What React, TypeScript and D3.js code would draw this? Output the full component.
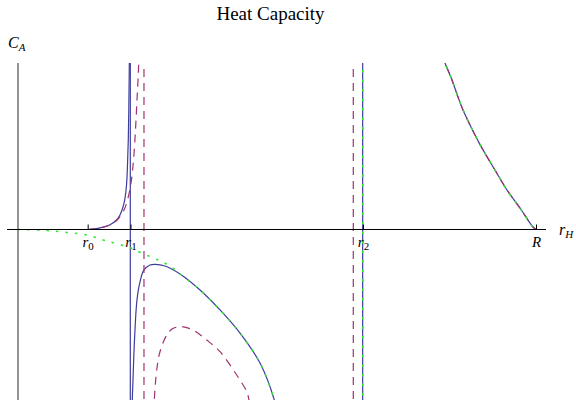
import { useEffect, useRef } from "react";
import * as d3 from "d3";

const W = 576;
const H = 400;

// r_H axis ticks (R taken as 10)
const tickValues = [1.345, 2.172, 6.66, 10];
const tickNames = ["r", "r", "r", "R"];
const tickSubs = ["0", "1", "2", ""];

// solid blue: exact C_A
const blueLeft: [number, number][] = [
  [1.351, 0], [1.486, 0.004], [1.641, 0.014], [1.776, 0.028], [1.892, 0.054],
  [1.969, 0.087], [2.027, 0.135], [2.066, 0.189], [2.095, 0.267], [2.114, 0.387],
  [2.129, 0.538], [2.139, 0.718], [2.149, 1.0], [2.153, 1.3],
];
const blueJump1: [number, number][] = [[2.168, 1.3], [2.168, -1.3]];
const blueMid: [number, number][] = [
  [2.195, -1.3], [2.207, -1.024], [2.22, -0.904], [2.249, -0.664], [2.297, -0.423],
  [2.355, -0.315], [2.432, -0.243], [2.548, -0.213], [2.645, -0.209], [2.838, -0.219],
  [3.127, -0.267], [3.514, -0.363], [3.9, -0.483], [4.286, -0.622], [4.672, -0.802],
  [4.948, -1.024], [5.0, -1.1],
];
const blueJump2: [number, number][] = [[6.654, 1.3], [6.654, -1.3]];
const rightBranch: [number, number][] = [
  [8.06, 1.14], [8.243, 1.0], [8.378, 0.898], [8.494, 0.796], [8.591, 0.718],
  [8.726, 0.628], [8.842, 0.556], [8.977, 0.478], [9.208, 0.357], [9.44, 0.237],
  [9.691, 0.129], [9.942, 0.015], [10, 0],
];

// dashed purple: approximation 1
const purpleLeft: [number, number][] = [
  [1.351, 0], [1.583, 0.009], [1.776, 0.027], [1.931, 0.063], [2.046, 0.117],
  [2.114, 0.177], [2.181, 0.279], [2.23, 0.417], [2.268, 0.598], [2.297, 0.778],
  [2.317, 0.898], [2.33, 1.0], [2.34, 1.3],
];
const purpleJump1: [number, number][] = [[2.432, 1.3], [2.432, -1.3]];
const purpleMid: [number, number][] = [
  [2.62, -1.1], [2.631, -1.024], [2.678, -0.844], [2.741, -0.734], [2.871, -0.634],
  [2.973, -0.598], [3.095, -0.584], [3.166, -0.583], [3.384, -0.604], [3.643, -0.664],
  [3.9, -0.734], [4.222, -0.874], [4.415, -0.974], [4.459, -1.024], [4.48, -1.1],
];
const purpleJump2: [number, number][] = [[6.473, 1.3], [6.473, -1.3]];

// dotted green: approximation 2
const greenLeft: [number, number][] = [
  [0, 0], [0.174, -0.001], [0.56, -0.006], [0.946, -0.018], [1.332, -0.033],
  [1.641, -0.063], [1.834, -0.079], [2.195, -0.113], [2.355, -0.137], [2.703, -0.183],
  [2.838, -0.203], [2.998, -0.233], [3.127, -0.267], [3.514, -0.363], [3.9, -0.483],
  [4.286, -0.622], [4.672, -0.802], [4.948, -1.024], [5.0, -1.1],
];
const greenJump2: [number, number][] = [[6.654, 1.3], [6.654, -1.3]];

const BLUE = "#3d3d9c";
const PURPLE = "#a0336e";
const GREEN = "#2ee82e";
const SERIF = "'Liberation Serif', 'Times New Roman', Times, serif";

export default function App() {
  const ref = useRef<SVGSVGElement>(null);

  useEffect(() => {
    const svg = d3.select(ref.current!);
    svg.selectAll("*").remove();

    const x = d3.scaleLinear().domain([0, 10]).range([18, 536]);
    const y = d3.scaleLinear().domain([0, 1]).range([229.5, 63]);

    svg.append("defs").append("clipPath").attr("id", "plotclip")
      .append("rect").attr("x", 0).attr("y", y(1)).attr("width", W).attr("height", H - y(1));

    // title and axis names
    svg.append("text").text("Heat Capacity")
      .attr("x", 270.5).attr("y", 20).attr("text-anchor", "middle")
      .style("font-family", SERIF).style("font-size", "19px").attr("fill", "#000");

    const ca = svg.append("text").attr("x", 8).attr("y", 48)
      .style("font-family", SERIF).style("font-style", "italic").style("font-size", "16px");
    ca.append("tspan").text("C");
    ca.append("tspan").attr("dy", 2.5).style("font-size", "11px").text("A");

    const rh = svg.append("text").attr("x", 559).attr("y", 235)
      .style("font-family", SERIF).style("font-style", "italic").style("font-size", "16px");
    rh.append("tspan").text("r");
    rh.append("tspan").attr("dy", 3).style("font-size", "11px").text("H");

    // y axis
    svg.append("line")
      .attr("x1", x(0)).attr("x2", x(0))
      .attr("y1", y(1)).attr("y2", H)
      .attr("stroke", "#7a7a7a").attr("stroke-width", 1.6);

    const line = d3.line<[number, number]>().x((d) => x(d[0])).y((d) => y(d[1]));
    const smooth = d3.line<[number, number]>().x((d) => x(d[0])).y((d) => y(d[1]))
      .curve(d3.curveCatmullRom.alpha(0.5));

    const g = svg.append("g").attr("clip-path", "url(#plotclip)");
    const draw = (pts: [number, number][], color: string, dash: string | null, w: number, curved = true) => {
      g.append("path")
        .attr("d", (curved ? smooth : line)(pts))
        .attr("fill", "none")
        .attr("stroke", color)
        .attr("stroke-width", w)
        .attr("stroke-dasharray", dash);
    };

    [blueLeft, blueMid, rightBranch].forEach((p) => draw(p, BLUE, null, 1.2));
    [blueJump1, blueJump2].forEach((p) => draw(p, BLUE, null, 1.2, false));
    [purpleLeft, purpleMid, rightBranch].forEach((p) => draw(p, PURPLE, "8,6", 1.2));
    [purpleJump1, purpleJump2].forEach((p) => draw(p, PURPLE, "8,6", 1.2, false));
    [greenLeft, rightBranch].forEach((p) => draw(p, GREEN, "2.5,7", 1.6));
    draw(greenJump2, GREEN, "2.5,7", 1.6, false);

    // x axis
    const xAxis = d3.axisBottom(x).tickValues(tickValues).tickSizeInner(-5).tickSizeOuter(0)
      .tickPadding(0).tickFormat(() => "");
    const ax = svg.append("g").attr("transform", `translate(0,${y(0)})`).call(xAxis)
      .attr("font-family", null).attr("font-size", null);
    ax.select(".domain").remove();
    ax.selectAll(".tick line").attr("stroke", "#000").attr("stroke-width", 1);
    ax.insert("line", ":first-child")
      .attr("x1", 7).attr("x2", 546).attr("y1", 0).attr("y2", 0)
      .attr("stroke", "#000").attr("stroke-width", 1.2);
    ax.selectAll<SVGTextElement, number>(".tick text").each(function (_d, i) {
      const t = d3.select(this)
        .attr("y", 17).attr("dy", null)
        .style("font-family", SERIF)
        .style("font-style", "italic").style("font-size", "15px").attr("fill", "#000")
        .attr("text-anchor", "middle");
      t.append("tspan").text(tickNames[i]);
      if (tickSubs[i]) {
        t.append("tspan").style("font-size", "11px").style("font-style", "normal").attr("dy", 3).text(tickSubs[i]);
      }
    });
  }, []);

  return (
    <svg ref={ref} width={W} height={H} style={{ position: "absolute", left: 0, top: 0, background: "#fff" }} />
  );
}
